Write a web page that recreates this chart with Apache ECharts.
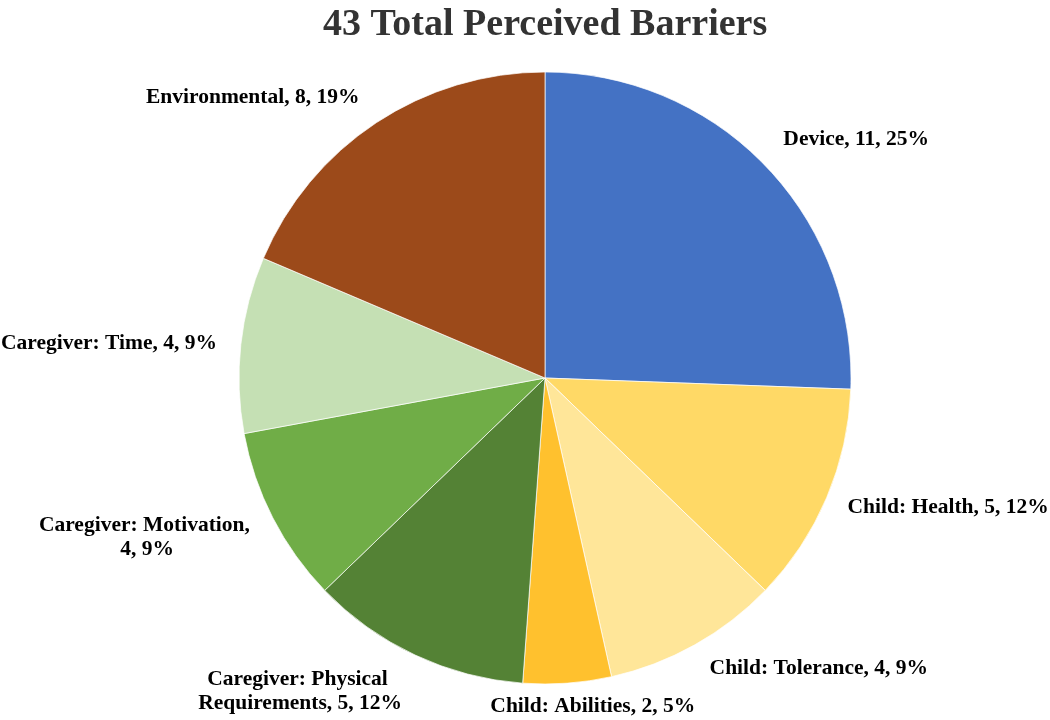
<!DOCTYPE html>
<html>
<head>
<meta charset="utf-8">
<script src="https://cdn.jsdelivr.net/npm/echarts@6/dist/echarts.min.js"></script>
<style>html,body{margin:0;padding:0;background:#fff}#c{width:1050px;height:720px}</style>
</head>
<body>
<div id="c"></div>
<script>
const titleText = '43 Total Perceived Barriers';
const categories = ['Device', 'Child: Health', 'Child: Tolerance', 'Child: Abilities',
  'Caregiver: Physical Requirements', 'Caregiver: Motivation', 'Caregiver: Time', 'Environmental'];
const counts = [11, 5, 4, 2, 5, 4, 4, 8];
const percentLabels = ['25%', '12%', '9%', '5%', '12%', '9%', '9%', '19%'];
const colors = ['#4472C4', '#FFD966', '#FFE699', '#FFC12E', '#548235', '#70AD47', '#C5E0B4', '#9C4A1A'];
// label styling: wrap width and small offsets to match the original placement
const wrapWidths = [null, null, null, null, 208, 216, null, null];
const labelNudge = [[3, -16], [3, 4], [3, 11], [-83, 9], [0, 24], [-3, 13], [-5, 0], [-4, -14]];

const chart = echarts.init(document.getElementById('c'), null, {renderer: 'canvas'});
const data = categories.map((n, i) => {
  const d = {name: n, value: counts[i], itemStyle: {color: colors[i]}};
  if (wrapWidths[i]) d.label = {width: wrapWidths[i], overflow: 'break', align: 'center',
    rich: {c: {align: 'center', fontFamily: 'Liberation Serif', fontWeight: 'bold', fontSize: 21.5, color: '#000', lineHeight: 24}}};
  return d;
});
chart.setOption({
  animation: false,
  title: {
    text: titleText, left: 318, top: 1,
    textStyle: {fontFamily: 'Liberation Serif', fontWeight: 'bold', fontSize: 38, color: '#333'}
  },
  series: [{
    type: 'pie',
    center: [545, 378],
    radius: 306,
    startAngle: 90,
    clockwise: true,
    data: data,
    itemStyle: {borderColor: '#fff', borderWidth: 0.7},
    label: {
      show: true, position: 'outside', overflow: 'none',
      fontFamily: 'Liberation Serif', fontWeight: 'bold', fontSize: 21.5, color: '#000',
      lineHeight: 24,
      formatter: p => {
        const t = p.name + ', ' + p.value + ', ' + percentLabels[p.dataIndex];
        return wrapWidths[p.dataIndex] ? '{c|' + t + '}' : t;
      }
    },
    labelLine: {show: false, length: 14, length2: 0},
    labelLayout: p => ({dx: labelNudge[p.dataIndex][0], dy: labelNudge[p.dataIndex][1]})
  }]
});
</script>
</body>
</html>
